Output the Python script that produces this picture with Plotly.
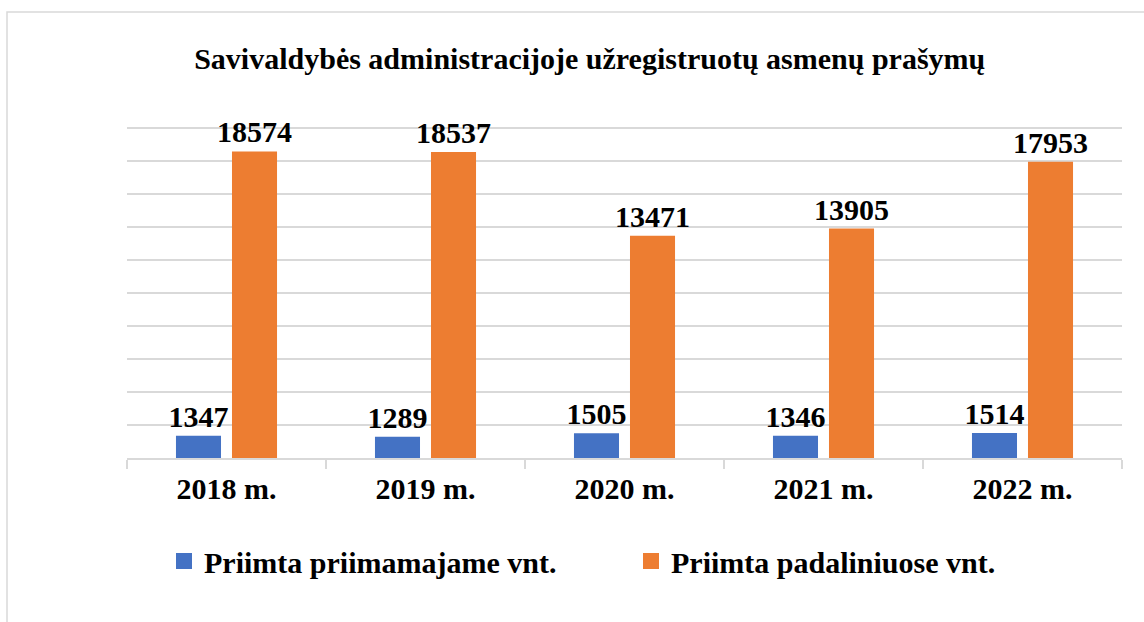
import plotly.graph_objects as go

# Requests registered by the municipal administration, by year
years = ["2018 m.", "2019 m.", "2020 m.", "2021 m.", "2022 m."]
reception = [1347, 1289, 1505, 1346, 1514]
departments = [18574, 18537, 13471, 13905, 17953]

series_names = ["Priimta priimamajame vnt.", "Priimta padaliniuose vnt."]
colors = ["#4472C4", "#ED7D31"]

FONT = "Liberation Serif"
GRID = "#d9d9d9"
FS = 30

fig = go.Figure()
for name, vals, col in zip(series_names, [reception, departments], colors):
    fig.add_trace(go.Bar(
        x=years, y=vals, name=name,
        marker=dict(color=col, line=dict(width=0)),
        text=[str(v) for v in vals],
        textposition="outside",
        constraintext="none",
        cliponaxis=False,
        textfont=dict(family=FONT, size=FS, color="black", weight="bold"),
        showlegend=False,
    ))
    # legend entry with a larger square swatch
    fig.add_trace(go.Scatter(
        x=[None], y=[None], mode="markers", name=name,
        marker=dict(symbol="square", size=16, color=col),
        showlegend=True,
    ))

# plot area in pixels; the y range runs a little past the top gridline
L, R, B = 127, 1122, 458
Y_TOP_GRID = 128
Y_MAX = 20300
T = B - (B - Y_TOP_GRID) * Y_MAX / 20000

def px(xp):
    return (xp - L) / (R - L)
def py(yp):
    return (B - yp) / (B - T)

# light frame around the chart area
fig.add_shape(type="path", xref="paper", yref="paper",
              path=f"M {px(7)} {py(640)} L {px(7)} {py(12)} L {px(1160)} {py(12)}",
              line=dict(color=GRID, width=1.5))

fig.update_layout(
    width=1144, height=622,
    margin=dict(l=L, r=1144 - R, t=T, b=622 - B),
    paper_bgcolor="white", plot_bgcolor="white",
    barmode="group", bargap=0.437, bargroupgap=0.196,
    title=dict(
        text="Savivaldybės administracijoje užregistruotų asmenų prašymų",
        x=0.5155, xanchor="center", y=1 - 58 / 622, yanchor="middle",
        font=dict(family=FONT, size=FS, color="black", weight="bold"),
    ),
    legend=dict(
        orientation="h", x=px(164), xanchor="left", y=py(561), yanchor="middle",
        font=dict(family=FONT, size=FS, color="black", weight="bold"),
        entrywidth=422, entrywidthmode="pixels",
        bgcolor="rgba(0,0,0,0)",
    ),
    xaxis=dict(
        showline=True, linecolor=GRID, linewidth=1.5,
        ticks="outside", tickson="boundaries", ticklen=9, tickcolor=GRID, tickwidth=1.5,
        tickfont=dict(family=FONT, size=FS, color="black", weight="bold"),
        ticklabelstandoff=3,
        showgrid=False, fixedrange=True,
    ),
    yaxis=dict(
        range=[0, Y_MAX], tickvals=list(range(2000, 20001, 2000)), showticklabels=False,
        showgrid=True, gridcolor=GRID, gridwidth=1.5,
        zeroline=False, showline=False, fixedrange=True,
    ),
)

fig.write_html("out.html")
